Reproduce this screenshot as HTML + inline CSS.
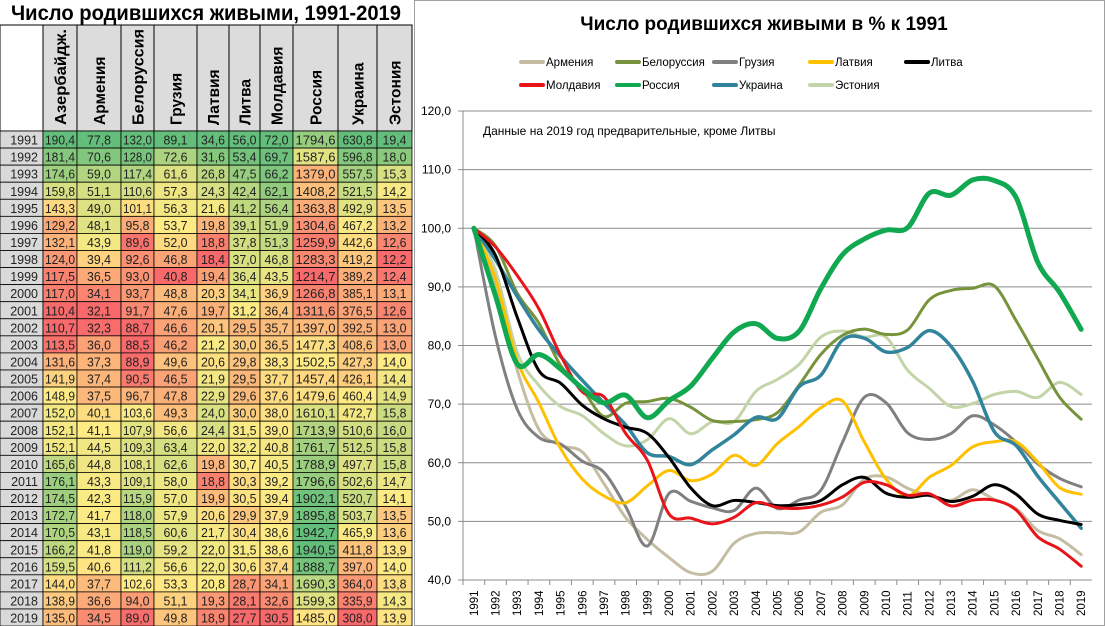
<!DOCTYPE html>
<html><head><meta charset="utf-8">
<style>
html,body{margin:0;padding:0;background:#fff;}
body{width:1105px;height:626px;overflow:hidden;font-family:"Liberation Sans","DejaVu Sans",sans-serif;}
svg{display:block}
</style></head>
<body>
<svg id="root" width="1105" height="626" viewBox="0 0 1105 626" xmlns="http://www.w3.org/2000/svg">
  <rect x="0" y="0" width="1105" height="626" fill="#fff"/>
  <g id="table"></g>
  <g id="chart"></g>
</svg>
<script>
const years = [1991,1992,1993,1994,1995,1996,1997,1998,1999,2000,2001,2002,2003,2004,2005,2006,2007,2008,2009,2010,2011,2012,2013,2014,2015,2016,2017,2018,2019];
const countries = ["Азербайдж.","Армения","Белоруссия","Грузия","Латвия","Литва","Молдавия","Россия","Украина","Эстония"];
const azerbaijan = [190.4,181.4,174.6,159.8,143.3,129.2,132.1,124.0,117.5,117.0,110.4,110.7,113.5,131.6,141.9,148.9,152.0,152.1,152.1,165.6,176.1,174.5,172.7,170.5,166.2,159.5,144.0,138.9,135.0];
const armenia = [77.8,70.6,59.0,51.1,49.0,48.1,43.9,39.4,36.5,34.1,32.1,32.3,36.0,37.3,37.4,37.5,40.1,41.1,44.5,44.8,43.3,42.3,41.7,43.1,41.8,40.6,37.7,36.6,34.5];
const belarus = [132.0,128.0,117.4,110.6,101.1,95.8,89.6,92.6,93.0,93.7,91.7,88.7,88.5,88.9,90.5,96.7,103.6,107.9,109.3,108.1,109.1,115.9,118.0,118.5,119.0,111.2,102.6,94.0,89.0];
const georgia = [89.1,72.6,61.6,57.3,56.3,53.7,52.0,46.8,40.8,48.8,47.6,46.6,46.2,49.6,46.5,47.8,49.3,56.6,63.4,62.6,58.0,57.0,57.9,60.6,59.2,56.6,53.3,51.1,49.8];
const latvia = [34.6,31.6,26.8,24.3,21.6,19.8,18.8,18.4,19.4,20.3,19.7,20.1,21.2,20.6,21.9,22.9,24.0,24.4,22.0,19.8,18.8,19.9,20.6,21.7,22.0,22.0,20.8,19.3,18.9];
const lithuania = [56.0,53.4,47.5,42.4,41.2,39.1,37.8,37.0,36.4,34.1,31.2,29.5,30.0,29.8,29.5,29.6,30.0,31.5,32.2,30.7,30.3,30.5,29.9,30.4,31.5,30.6,28.7,28.1,27.7];
const moldova = [72.0,69.7,66.2,62.1,56.4,51.9,51.3,46.8,43.5,36.9,36.4,35.7,36.5,38.3,37.7,37.6,38.0,39.0,40.8,40.5,39.2,39.4,37.9,38.6,38.6,37.4,34.1,32.6,30.5];
const russia = [1794.6,1587.6,1379.0,1408.2,1363.8,1304.6,1259.9,1283.3,1214.7,1266.8,1311.6,1397.0,1477.3,1502.5,1457.4,1479.6,1610.1,1713.9,1761.7,1788.9,1796.6,1902.1,1895.8,1942.7,1940.5,1888.7,1690.3,1599.3,1485.0];
const ukraine = [630.8,596.8,557.5,521.5,492.9,467.2,442.6,419.2,389.2,385.1,376.5,392.5,408.6,427.3,426.1,460.4,472.7,510.6,512.5,497.7,502.6,520.7,503.7,465.9,411.8,397.0,364.0,335.9,308.0];
const estonia = [19.4,18.0,15.3,14.2,13.5,13.2,12.6,12.2,12.4,13.1,12.6,13.0,13.0,14.0,14.4,14.9,15.8,16.0,15.8,15.8,14.7,14.1,13.5,13.6,13.9,14.0,13.8,14.3,13.9];
const columns = [azerbaijan,armenia,belarus,georgia,latvia,lithuania,moldova,russia,ukraine,estonia];
const yTicks = [40,50,60,70,80,90,100,110,120];
const yTickLabels = ["40,0","50,0","60,0","70,0","80,0","90,0","100,0","110,0","120,0"];
const seriesNames = ["Армения","Белоруссия","Грузия","Латвия","Литва","Молдавия","Россия","Украина","Эстония"];
const seriesSource = [armenia,belarus,georgia,latvia,lithuania,moldova,russia,ukraine,estonia];

const NS="http://www.w3.org/2000/svg";
function mk(tag,attrs,parent){const e=document.createElementNS(NS,tag);for(const k in attrs)e.setAttribute(k,attrs[k]);parent.appendChild(e);return e;}
const fmt=v=>v.toFixed(1).replace('.',',');

/* ---------- TABLE ---------- */
const T=document.getElementById('table');
const colX=[0,43,77,121,154,197,229,260,293,338,377,412];
const rowTop=131, rowH=17.07, headTop=25;
let tt=mk('text',{x:206,y:20,'text-anchor':'middle','font-size':21,'font-weight':'bold',fill:'#000','textLength':390,'lengthAdjust':'spacingAndGlyphs'},T);
tt.textContent="Число родившихся живыми, 1991-2019";


mk('rect',{x:0,y:headTop,width:43,height:rowTop-headTop,fill:'#fff',stroke:'#000','stroke-width':1},T);
function lerp(a,b,t){return a.map((v,i)=>Math.round(v+(b[i]-v)*t));}
const RED=[248,105,107],YEL=[255,235,132],GRN=[99,190,123];
function scaleColor(v,arr){
  const s=[...arr].sort((a,b)=>a-b);const mn=s[0],mx=s[s.length-1];
  const n=s.length;const med=n%2?s[(n-1)/2]:(s[n/2-1]+s[n/2])/2;
  let c; if(v<=med){c=lerp(RED,YEL,med===mn?1:(v-mn)/(med-mn));} else {c=lerp(YEL,GRN,(v-med)/(mx-med));}
  return `rgb(${c[0]},${c[1]},${c[2]})`;
}
countries.forEach((name,ci)=>{
  const x0=colX[ci+1],x1=colX[ci+2];
  const hr=mk('rect',{x:x0,y:headTop,width:x1-x0,height:rowTop-headTop,fill:'#dcdcdc',stroke:'#000','stroke-width':1},T);
  
  
  const cx=(x0+x1)/2+6, cy=rowTop-6;
  const attrs={x:cx,y:cy,transform:`rotate(-90 ${cx} ${cy})`,'font-size':15.5,'font-weight':'bold',fill:'#000'};
  if(name.length>=10){attrs.textLength=96;attrs.lengthAdjust='spacingAndGlyphs';}
  const ht=mk('text',attrs,T);
  ht.textContent=name;
  
  
});
years.forEach((yr,ri)=>{
  const y=rowTop+ri*rowH;
  const yc=mk('rect',{x:0,y:y,width:43,height:rowH,fill:'#d9d9d9',stroke:'#000','stroke-width':0.8},T);
  
  
  const yt=mk('text',{x:38,y:y+rowH-3.5,'text-anchor':'end','font-size':12.5,fill:'#222'},T);
  yt.textContent=yr;
  
  
  columns.forEach((arr,ci)=>{
    const x0=colX[ci+1],x1=colX[ci+2];
    const c=mk('rect',{x:x0,y:y,width:x1-x0,height:rowH,fill:scaleColor(arr[ri],arr),stroke:'#000','stroke-width':0.8},T);
    
    
    const t=mk('text',{x:(x0+x1)/2,y:y+rowH-3.5,'text-anchor':'middle','font-size':13,fill:'#222','textLength':Math.min(x1-x0-4,arr[ri]>=1000?40:(arr[ri]>=100?30:24)),'lengthAdjust':'spacingAndGlyphs'},T);
    t.textContent=fmt(arr[ri]);
    
    
  });
});

/* ---------- CHART ---------- */
const C=document.getElementById('chart');
mk('rect',{x:414.5,y:0.5,width:690,height:625,fill:'#fff',stroke:'#a0a0a0','stroke-width':1},C);
const ct=mk('text',{x:764,y:30,'text-anchor':'middle','font-size':19,'font-weight':'bold',fill:'#000'},C);
ct.textContent="Число родившихся живыми в % к 1991";


const plotL=463,plotR=1092,plotT=111,plotB=580,yMin=40,yMax=120;
const step=(plotR-plotL)/years.length;
const xS=i=>plotL+step*(i+0.5);
const yS=v=>plotB-(v-yMin)/(yMax-yMin)*(plotB-plotT);
yTicks.forEach((v,i)=>{
  const g=mk('line',{x1:plotL-5,x2:plotR,y1:yS(v),y2:yS(v),stroke:'#8c8c8c','stroke-width':1},C);
  
  
  const t=mk('text',{x:451,y:yS(v)+4,'text-anchor':'end','font-size':12,fill:'#000'},C);
  t.textContent=yTickLabels[i];
  
  
});
const ax=mk('line',{x1:plotL,x2:plotL,y1:plotT,y2:plotB,stroke:'#8c8c8c','stroke-width':1},C);


years.forEach((yr,i)=>{
  const tk=mk('line',{x1:plotL+step*i,x2:plotL+step*i,y1:plotB,y2:plotB+5,stroke:'#8c8c8c'},C);
  
  
  const cx=xS(i)+4, cy=616;
  const t=mk('text',{x:cx,y:cy,transform:`rotate(-90 ${cx} ${cy})`,'font-size':11.5,fill:'#000'},C);
  t.textContent=yr;
  
  
});
const note=mk('text',{x:483,y:135,'font-size':12,fill:'#000'},C);
note.textContent="Данные на 2019 год предварительные, кроме Литвы";



const colors=["#c4bda3","#77933c","#808080","#ffc000","#000000","#e8141a","#10a850","#31849b","#c3d5a8"];
const widths=[3,3,3,3,3,3,5,3.5,3];
function smooth(pts){
  let d=`M${pts[0][0]},${pts[0][1]}`;
  for(let i=0;i<pts.length-1;i++){
    const p0=pts[i-1]||pts[i],p1=pts[i],p2=pts[i+1],p3=pts[i+2]||p2;
    const c1=[p1[0]+(p2[0]-p0[0])/6,p1[1]+(p2[1]-p0[1])/6];
    const c2=[p2[0]-(p3[0]-p1[0])/6,p2[1]-(p3[1]-p1[1])/6];
    d+=` C${c1[0].toFixed(2)},${c1[1].toFixed(2)} ${c2[0].toFixed(2)},${c2[1].toFixed(2)} ${p2[0].toFixed(2)},${p2[1].toFixed(2)}`;
  }
  return d;
}
const order=[8,0,2,1,3,7,4,5,6];
order.forEach(si=>{
  const src=seriesSource[si];
  const pts=src.map((v,i)=>[xS(i),yS(v/src[0]*100)]);
  const p=mk('path',{d:smooth(pts),fill:'none',stroke:colors[si],'stroke-width':widths[si],'stroke-linejoin':'round','stroke-linecap':'round'},C);
  
  
});
/* legend */
const legX=[521,617,714,810,906], legY=[62,85];
seriesNames.forEach((n,i)=>{
  const r=i<5?0:1, c=i<5?i:i-5;
  const lx=legX[c], ly=legY[r];
  const g=mk('g',{},C);
  
  
  mk('line',{x1:lx,x2:lx+22,y1:ly,y2:ly,stroke:colors[i],'stroke-width':4,'stroke-linecap':'round'},g);
  const t=mk('text',{x:lx+25,y:ly+4,'font-size':11.5,fill:'#000'},g);
  t.textContent=n;
});
</script>
</body></html>
